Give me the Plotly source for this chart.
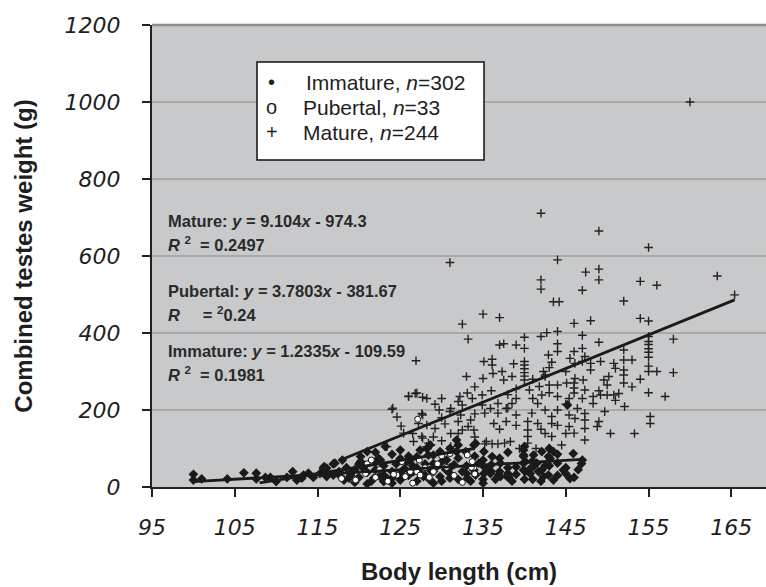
import plotly.graph_objects as go

# ---------------- data ----------------
mature_points = [
    (160, 1000), (142, 711), (149, 665), (155, 622), (131, 583), (144, 590), (147.4, 558),
    (149, 566), (149, 538), (142, 538), (142, 514), (147, 511), (154, 534), (156, 524),
    (163.3, 548), (165.4, 499), (152, 483), (143.5, 481), (144.2, 481), (135, 449), (137, 440),
    (132.5, 423), (133.2, 384), (154, 438), (155, 431), (146, 425), (148, 432), (147, 394),
    (140, 389), (142, 391), (142.7, 401), (144, 404), (144, 372), (144, 352), (149, 376),
    (158, 384), (155, 391), (155, 378), (155, 359), (155, 337), (155, 314), (137, 369),
    (137.5, 372), (139, 369), (140, 360), (126.9, 328), (135.1, 326), (136.1, 332), (136.1, 317),
    (138.7, 320), (140, 326), (140, 317), (140, 307), (140, 297), (140, 288), (140, 278),
    (142.9, 343), (143.3, 324), (145.5, 334), (146, 352), (147, 360), (147, 326), (148, 321),
    (148, 304), (150.8, 321), (151, 308), (152, 356), (152, 330), (152, 304), (152, 291),
    (153, 330), (158, 297), (155, 245), (157, 235), (133, 287), (135, 282), (136.2, 295),
    (137.3, 300), (137.5, 278), (138.5, 287), (142.3, 300), (142.5, 287), (143, 265), (144, 265),
    (145.1, 270), (146, 270), (146, 257), (146, 244), (149.6, 278), (150, 265), (150, 239),
    (150.8, 239), (126, 235), (127, 244), (127.7, 233), (132.2, 235), (133.1, 244), (134.9, 239),
    (141.8, 261), (142.1, 239), (140.6, 252), (144.0, 235), (145.4, 230), (147.1, 278),
    (147.3, 252), (148.3, 235), (149.2, 239), (151.4, 243), (149.2, 326), (147.3, 339),
    (146.1, 321), (142.5, 291), (150.2, 287), (146.1, 282),
    (129.7, 200), (131.1, 204), (132.5, 213), (133.7, 230), (134.9, 213), (135.9, 204),
    (136.8, 217), (137.8, 204), (138.5, 217), (139.0, 187), (141.6, 217), (142.5, 200),
    (144.0, 200), (145.4, 187), (146.4, 204), (147.3, 191), (148.3, 217), (149.7, 196),
    (152.1, 209), (155.2, 183), (155.2, 165), (153.3, 139), (147.3, 174), (143.3, 183),
    (141.6, 165), (136.3, 165), (135.4, 118), (142.5, 139), (145.0, 139), (148.8, 157),
    (141.4, 100), (139.4, 100), (128.2, 105), (131.1, 105), (123.4, 105),
    (124.1, 205), (124.6, 182), (125.1, 158), (125.4, 140), (128.2, 230), (129.2, 215),
    (127.7, 187), (128.2, 161), (129.2, 152), (130.4, 164), (132.3, 187), (132.5, 148),
    (126.5, 139), (127.7, 127), (128.7, 109), (131.1, 139), (132, 139), (133.2, 157),
    (133.9, 148), (135.2, 112), (136.1, 112), (136.8, 112), (137.6, 114), (138.3, 118),
    (135.2, 192), (136.8, 192), (137.8, 170), (140.4, 170), (140.4, 148), (140.4, 131),
    (140.4, 114), (140.9, 192), (143.3, 165), (143.3, 131), (144.5, 109), (145.4, 157),
    (146.1, 178), (147.3, 152), (147.3, 122), (150.4, 139),
    (126.0, 236), (126.8, 243), (124.0, 202), (127.6, 191), (127.2, 165), (126.6, 118),
    (127.6, 131), (128.4, 114), (131.0, 196), (132.0, 222), (133.5, 174),
    (155, 300), (155, 350), (155, 370), (130, 230), (134, 260), (136, 250), (138, 240),
    (139, 255), (141, 230), (143, 245), (145, 215), (147, 230), (149, 250), (151, 225),
    (153, 260), (152, 270), (154, 280), (156, 300), (138, 205), (139, 230), (141, 280),
    (143, 310), (145, 300), (134, 190), (132, 170), (130, 180), (129, 130), (130, 120),
    (134, 130), (137, 150), (139, 160), (142, 150), (144, 160), (146, 140), (149, 170),
]

immature_points = [
    (100.0, 33), (100.0, 18), (101.0, 21), (104.1, 21), (106.1, 37), (107.6, 36), (107.6, 21),
    (108.7, 25), (109.3, 25), (110.0, 14), (111.3, 25), (112.0, 40), (112.5, 18), (113.1, 23),
    (114.5, 25), (115.7, 49), (116.1, 27), (116.9, 60), (116.9, 31), (117.6, 40), (118.2, 18),
    (118.8, 23), (113.3, 31), (115.3, 35), (120.2, 79), (121.0, 92), (122.4, 74), (123.2, 105),
    (123.0, 14), (125.0, 96), (125.0, 74), (120.2, 66), (122.6, 70), (126.2, 70), (127.4, 96),
    (128.2, 100), (128.4, 83), (128.6, 109), (129.8, 92), (130.6, 70), (131.8, 122), (132.0, 109),
    (131.8, 92), (132.9, 92), (134.1, 113), (135.1, 92), (136.1, 79), (137.1, 62), (139.9, 96),
    (139.9, 79), (139.9, 62), (139.9, 44), (141.1, 83), (142.1, 92), (142.1, 44), (141.1, 53),
    (143.1, 74), (117.8, 27), (119.0, 35), (121.8, 23), (123.0, 31), (124.2, 27), (126.2, 40),
    (127.8, 27), (128.6, 44), (129.8, 27), (131.0, 23), (133.1, 23), (133.9, 44), (135.1, 35),
    (137.1, 27), (138.1, 27), (140.7, 35), (141.7, 40), (142.3, 27), (125.8, 66), (126.6, 40),
    (129.0, 83), (129.0, 61), (134.1, 31), (135.1, 53), (135.9, 35), (136.9, 31), (137.9, 27),
    (139.9, 83), (140.1, 66), (140.1, 40), (140.7, 48), (142.9, 79), (142.9, 31), (144.7, 44),
    (145.9, 87), (146.9, 61), (133.9, 109), (145.2, 213), (115.8, 53), (143.5, 92), (113.9, 36),
    (116.1, 49), (117.1, 62),
    (119, 30), (119.5, 45), (120, 25), (120.5, 50), (121, 38), (121.5, 15), (122, 45),
    (122.5, 28), (123, 55), (123.5, 20), (124, 40), (124.5, 60), (125, 18), (125.5, 48),
    (126, 30), (126.5, 55), (127, 15), (127.5, 35), (128, 60), (128.5, 20), (129, 40),
    (129.5, 55), (130, 15), (130.5, 45), (131, 35), (131.5, 58), (132, 20), (132.5, 40),
    (133, 55), (133.5, 15), (134, 35), (134.5, 62), (135, 20), (135.5, 45), (136, 58),
    (136.5, 20), (137, 40), (138, 50), (138.5, 15), (139, 33), (141, 20), (141.5, 62),
    (142.5, 55), (143.5, 18), (144, 30), (145, 50), (145.5, 22), (146.5, 45), (147, 70),
    (120, 60), (118.5, 50), (119.5, 12), (121, 8), (122, 65), (124, 10), (125, 35), (126, 80),
    (127, 50), (128, 30), (129, 10), (130, 65), (131, 50), (132, 75), (133, 35), (134, 80),
    (135, 10), (136, 40), (137, 75), (138, 35), (139, 52), (140, 20), (141, 68), (142, 15),
    (143, 55), (144, 62), (145, 35), (146, 25), (118, 70), (122, 90), (124, 85), (127, 78),
    (131, 100), (135, 70), (138, 90), (140, 105), (143, 100), (144, 85),
]

pubertal_points = [
    (127.1, 176), (117.9, 22), (119.6, 18), (121.0, 60), (125.2, 66), (127.3, 70), (130.0, 81),
    (131.0, 87), (133.1, 83), (120.8, 35), (124.6, 31), (125.6, 27), (127.0, 40), (133.9, 51),
    (126.2, 40), (124.2, 33), (129.0, 40), (130.6, 51), (133.6, 51), (134.0, 34), (127.4, 31),
    (133.7, 66), (122.5, 45), (123.5, 15), (128.5, 25), (129.5, 60), (131.5, 30), (132.5, 12),
    (126.5, 10), (122, 25), (128, 50), (121.5, 70),
]

# trend lines as drawn in the picture (end points)
immature_fit_x = [100, 147]
immature_fit_y = [14, 72]
pubertal_fit_x = [108, 134]
pubertal_fit_y = [11, 100]
mature_fit_x = [118, 165.4]
mature_fit_y = [72, 486]

x_ticks = [95, 105, 115, 125, 135, 145, 155, 165]
y_ticks = [0, 200, 400, 600, 800, 1000, 1200]

legend_labels = ["Immature, <i>n</i>=302", "Pubertal, <i>n</i>=33", "Mature, <i>n</i>=244"]
legend_glyphs = ["•", "o", "+"]
equation_lines = [
    "<b>Mature: <i>y</i> = 9.104<i>x</i> - 974.3</b>",
    "<b><i>R</i> <sup>2</sup>  = 0.2497</b>",
    "<b>Pubertal: <i>y</i> = 3.7803<i>x</i> - 381.67</b>",
    "<b><i>R</i>     = <sup>2</sup>0.24</b>",
    "<b>Immature: <i>y</i> = 1.2335<i>x</i> - 109.59</b>",
    "<b><i>R</i> <sup>2</sup>  = 0.1981</b>",
]

# ---------------- figure ----------------
W, H = 766, 587
L, R, T, B = 152, 0, 25, 100
PW, PH = W - L - R, H - T - B


def px(xp):
    return (xp - L) / PW


def py(yp):
    return (H - B - yp) / PH


TEXT = "#1e1e1e"
FONT = "Liberation Sans, Arial, Helvetica, sans-serif"

fig = go.Figure()

fig.add_trace(go.Scatter(
    x=[p[0] for p in mature_points], y=[p[1] for p in mature_points],
    mode="markers", name="Mature",
    marker=dict(symbol="cross-thin", size=6.2, line=dict(width=1.4, color="#222222"), color="#222222"),
))
fig.add_trace(go.Scatter(
    x=[p[0] for p in immature_points], y=[p[1] for p in immature_points],
    mode="markers", name="Immature",
    marker=dict(symbol="diamond", size=7.5, color="#1a1a1a", line=dict(width=0)),
))
fig.add_trace(go.Scatter(
    x=[p[0] for p in pubertal_points], y=[p[1] for p in pubertal_points],
    mode="markers", name="Pubertal",
    marker=dict(symbol="circle", size=6, color="white", line=dict(width=1, color="#111111")),
))
for fx, fy in [(immature_fit_x, immature_fit_y), (pubertal_fit_x, pubertal_fit_y), (mature_fit_x, mature_fit_y)]:
    fig.add_trace(go.Scatter(x=fx, y=fy, mode="lines", line=dict(color="#1a1a1a", width=2.8),
                             showlegend=False, hoverinfo="skip"))

# top border of the plot area
fig.add_shape(type="line", xref="paper", yref="paper", x0=0, x1=1, y0=1, y1=1,
              line=dict(color="#8e8e8e", width=2.5))

# legend box
fig.add_shape(type="rect", xref="paper", yref="paper",
              x0=px(257), x1=px(484), y0=py(160), y1=py(62),
              line=dict(color="#111111", width=1.5), fillcolor="white", layer="above")

legend_rows_y = [82, 107, 132]
for glyph, lab, yy in zip(legend_glyphs, legend_labels, legend_rows_y):
    fig.add_annotation(xref="paper", yref="paper", x=px(271.5), y=py(yy), text=glyph,
                       showarrow=False, xanchor="center", yanchor="middle",
                       font=dict(family=FONT, size=20, color=TEXT))
    fig.add_annotation(xref="paper", yref="paper", x=px(304 if lab.startswith("Imm") else 301), y=py(yy),
                       text=lab, showarrow=False, xanchor="left", yanchor="middle",
                       font=dict(family=FONT, size=21, color=TEXT))

eq_rows_y = [221, 244, 291, 314, 351, 374]
for txt, yy in zip(equation_lines, eq_rows_y):
    fig.add_annotation(xref="paper", yref="paper", x=px(166), y=py(yy), text=txt,
                       showarrow=False, xanchor="left", yanchor="middle",
                       font=dict(family=FONT, size=16.5, color="#2a2a2a"))

tickfont = dict(family="DejaVu Sans, sans-serif", size=22, style="italic", color=TEXT)

fig.update_layout(
    width=W, height=H,
    margin=dict(l=L, r=R, t=T, b=B, autoexpand=False),
    paper_bgcolor="white", plot_bgcolor="#c8c9cb",
    showlegend=False,
    font=dict(family=FONT, color=TEXT),
    xaxis=dict(
        range=[95, 95 + PW / 8.276], tickmode="array", tickvals=x_ticks,
        ticktext=["<i>%d</i>" % v for v in x_ticks],
        ticks="outside", ticklen=8, tickwidth=1.5, tickcolor="#222222",
        showline=True, linecolor="#222222", linewidth=2, showgrid=False, zeroline=False,
        tickfont=tickfont, ticklabelstandoff=12,
        title=dict(text="<b>Body length (cm)</b>", font=dict(family=FONT, size=24, color=TEXT), standoff=24),
    ),
    yaxis=dict(
        range=[0, 1200], tickmode="array", tickvals=y_ticks,
        ticktext=["<i>%d</i>" % v for v in y_ticks],
        ticks="outside", ticklen=8, tickwidth=1.5, tickcolor="#222222",
        showline=True, linecolor="#222222", linewidth=2,
        showgrid=True, gridcolor="#a9a9a9", gridwidth=1.5, zeroline=False,
        tickfont=tickfont, ticklabelstandoff=17,
        title=dict(text="<b>Combined testes weight (g)</b>", font=dict(family=FONT, size=24, color=TEXT), standoff=25),
    ),
)

fig.write_html("out.html")
